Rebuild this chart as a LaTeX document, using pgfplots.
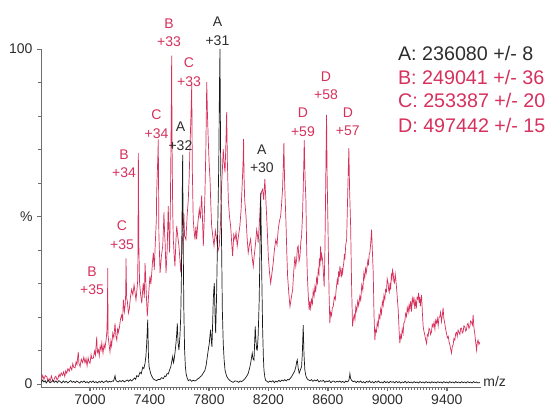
\documentclass[border=0pt]{standalone}
\usepackage{pgfplots}
\pgfplotsset{compat=1.18}
\usepackage{fontspec}
\setmainfont{Liberation Sans}
\definecolor{spred}{RGB}{214,48,92}
\definecolor{spblack}{RGB}{25,25,25}
\definecolor{axgray}{RGB}{110,110,110}
\definecolor{txgray}{RGB}{45,45,45}

\begin{document}
\begin{tikzpicture}
\begin{axis}[
    scale only axis,
    width=440pt, height=338.35pt,
    xmin=6670, xmax=9630,
    ymin=-1, ymax=100,
    axis lines=left,
    axis line style={-, draw=axgray, line width=0.7pt},
    xtick={7000,7400,7800,8200,8600,9000,9400},
    minor x tick num=19,
    ytick={0,50,100},
    yticklabels={0,\%,100},
    minor ytick={10,20,30,40,60,70,80,90},
    tick align=outside,
    major tick length=4pt, minor tick length=2.5pt,
    tick style={draw=axgray, line width=0.5pt},
    major x tick style={line width=1.4pt, draw=axgray},
    /pgf/number format/assume math mode=true,
    /pgf/number format/set thousands separator={},
    ticklabel style={font=\fontsize{14}{14}\selectfont, text=txgray},
    yticklabel style={xshift=-1pt},
    clip=false,
]
% sample spectrum (pink)
\addplot[spred, line width=0.7pt] coordinates {
(6672,1.2) (6682,2.6) (6690,1.4) (6699,2.5) (6709,2.2) (6717,0.8) (6725,1.6) (6732,0.9)
(6740,2.4) (6747,1.3) (6753,0.7) (6762,1.9) (6770,2.3) (6778,1.2) (6785,1.8) (6792,2.9)
(6798,2.2) (6806,3.3) (6815,2.6) (6822,3.6) (6830,2.2) (6836,3.9) (6843,3.2) (6851,4.6)
(6860,3.8) (6868,5.2) (6877,4.2) (6884,6.1) (6890,5.0) (6899,4.8) (6906,6.6) (6912,5.8)
(6918,8.4) (6921,9.6) (6925,6.2) (6933,5.2) (6941,7.4) (6950,6.4) (6958,8.0) (6966,6.3)
(6973,7.6) (6980,5.4) (6987,7.8) (6993,6.6) (7000,6.2) (7007,8.8) (7012,7.6) (7022,7.7)
(7030,9.8) (7036,8.6) (7041,11.6) (7045,14.1) (7049,9.4) (7056,10.2) (7062,8.4) (7068,11.3)
(7074,10.1) (7079,12.2) (7087,9.2) (7094,11.8) (7100,10.6) (7108,13.2) (7113,15.6) (7117,22)
(7119,34.6) (7121,14.5) (7127,12.1) (7134,9.6) (7140,12.8) (7145,11.4) (7153,15.2) (7160,13.8)
(7168,18.1) (7174,14.2) (7180,13.1) (7186,16.8) (7190,15.4) (7197,16.7) (7205,19.4) (7213,20.6)
(7219,18.8) (7224,25.2) (7231,21.6) (7236,23.4) (7240,27) (7242,37.5) (7246,25.8) (7251,24.6)
(7258,21.2) (7264,22.3) (7272,26.1) (7280,28.2) (7288,26.6) (7296,29.6) (7303,27.2) (7309,25.1)
(7316,28.4) (7321,31.2) (7323,48) (7325,69) (7328,42) (7333,30.4) (7340,26.8) (7348,24.1)
(7353,27.5) (7358,30.2) (7365,25.7) (7370,36.1) (7374,31.8) (7378,27.3) (7385,20.2) (7390,23.6)
(7395,27.4) (7403,32.2) (7409,29.8) (7415,33.1) (7420,36.4) (7426,39.2) (7432,34.1) (7440,43.2)
(7446,49) (7448,57) (7456,68) (7459,73) (7463,45) (7471,33.2) (7480,38.1) (7489,41.3)
(7494,46.8) (7497,51.2) (7502,44.6) (7505,42.2) (7511,33.1) (7519,40.4) (7526,53.1) (7530,46.2)
(7535,39.3) (7540,52) (7543,65.1) (7547,84) (7549,98) (7552,70) (7556,52) (7560,43.2)
(7566,38.4) (7571,35.1) (7577,42) (7583,47.2) (7590,44.1) (7598,41.2) (7604,37.5) (7610,33.3)
(7618,40.2) (7627,47.1) (7631,51) (7636,44.2) (7645,43.1) (7653,50.2) (7661,55.1) (7667,62)
(7672,70.2) (7680,82) (7684,89.5) (7688,64) (7694,49.2) (7700,45.6) (7706,43.1) (7712,47)
(7717,43.2) (7726,48.4) (7735,52.2) (7742,49.4) (7751,56.3) (7756,50) (7762,41.2) (7768,49)
(7773,57.1) (7779,70) (7785,90.1) (7790,80) (7795,73.2) (7801,66) (7807,61.2) (7812,54)
(7818,47.1) (7826,44) (7834,41.2) (7843,45.8) (7852,43.1) (7860,39.6) (7869,41.2) (7878,48.1)
(7885,59.2) (7891,64.8) (7896,70.1) (7902,66) (7908,63.2) (7914,72) (7919,81.2) (7924,66)
(7930,55.2) (7938,50) (7946,47.1) (7953,42) (7959,38.2) (7967,44.6) (7975,43.1) (7982,45.2)
(7990,41.2) (7999,44.4) (8008,47.2) (8016,52) (8024,60.1) (8030,67) (8033,73.2) (8036,62)
(8040,55.2) (8049,50.1) (8056,44) (8064,39.2) (8072,41.5) (8080,43.2) (8089,38.4) (8098,35.1)
(8104,38.2) (8109,40.1) (8115,42.8) (8121,46.1) (8126,44.6) (8131,42.2) (8140,49) (8148,56.1)
(8154,57.4) (8161,58.1) (8168,55) (8176,61.2) (8182,55.6) (8188,50.1) (8194,44) (8199,38.2)
(8207,33.4) (8215,30.1) (8224,33.2) (8232,36.1) (8241,40.4) (8250,43.1) (8258,41.5) (8266,46.2)
(8274,48.6) (8282,50.1) (8288,53.4) (8295,58.2) (8300,65) (8304,72) (8309,60) (8318,48.1)
(8324,38.6) (8329,32.2) (8337,27.1) (8345,23.1) (8354,25.8) (8363,28.2) (8370,33.4) (8378,38.1)
(8384,35.2) (8390,37.3) (8395,40.6) (8400,41.2) (8406,36.7) (8412,38.1) (8418,42.4) (8423,44.2)
(8429,50) (8434,58.1) (8438,66) (8441,72.8) (8446,62) (8452,55.1) (8457,41) (8461,33.2)
(8468,26.4) (8474,22.1) (8479,24.8) (8484,22.6) (8490,25.2) (8496,24.0) (8501,27.8) (8507,26.2)
(8513,29.1) (8518,27.4) (8524,31.6) (8530,30.2) (8535,34.2) (8540,33.0) (8543,37.5) (8547,35.2)
(8551,41.1) (8555,36.8) (8558,38.6) (8564,37.2) (8570,33) (8575,29.1) (8580,40) (8585,58.2)
(8589,74) (8591,80.3) (8595,62) (8602,43.1) (8608,27) (8613,18.2) (8618,21.4) (8624,20.4)
(8630,22.8) (8636,23.1) (8643,26.0) (8650,25.2) (8656,28.4) (8663,31.1) (8668,29.6) (8672,33.6)
(8677,32.0) (8681,35.2) (8686,33.4) (8690,31.8) (8695,34.6) (8699,33.1) (8703,35.0) (8707,36.2)
(8711,38.8) (8714,37.1) (8720,41.4) (8726,43.2) (8734,58) (8741,70.4) (8746,58) (8753,47.1)
(8760,28) (8766,17.2) (8771,19.4) (8777,20.6) (8782,19.2) (8788,23.1) (8794,21.8) (8801,24.8)
(8807,23.4) (8815,26.2) (8821,25.0) (8828,29.6) (8835,28.0) (8842,33.1) (8848,31.6) (8853,34.4)
(8858,33.2) (8864,35.2) (8869,36.8) (8873,35.4) (8878,38.8) (8882,39.1) (8888,42) (8894,46.1)
(8899,40) (8905,33.2) (8910,21) (8916,13.1) (8921,16.2) (8927,15.6) (8932,18.4) (8938,17.2)
(8944,20.6) (8950,19.6) (8955,22.4) (8961,21.1) (8966,24.6) (8972,23.4) (8977,26.4) (8983,25.2)
(8988,28.2) (8994,27.6) (8999,31.4) (9005,30.1) (9009,28.0) (9013,27.4) (9018,30.2) (9022,28.2)
(9027,32.4) (9031,31.4) (9035,34.0) (9039,33.1) (9044,30.6) (9048,30.2) (9053,32.8) (9057,31.3)
(9062,28.6) (9065,27) (9069,24.4) (9073,22.2) (9079,16) (9084,12.2) (9090,14.6) (9095,13.8)
(9100,16.4) (9106,15.1) (9111,18.2) (9117,18.6) (9123,21.0) (9129,20.2) (9134,22.8) (9140,21.4)
(9146,23.6) (9151,22.1) (9157,24.8) (9163,21.6) (9168,25.6) (9174,24.2) (9179,26.0) (9185,22.4)
(9190,24.6) (9196,23.1) (9200,25.8) (9205,25.4) (9210,27.2) (9214,24.2) (9218,26.0) (9222,23.2)
(9226,25.0) (9230,26.6) (9236,21) (9241,17.2) (9246,15.8) (9252,14.6) (9258,13.2) (9264,12.1)
(9269,14.8) (9275,14.4) (9280,16.6) (9286,16.2) (9291,14.8) (9297,15.6) (9302,17.8) (9308,17.1)
(9314,18.4) (9320,16.4) (9325,19.0) (9331,18.2) (9336,19.6) (9342,17.4) (9347,19.8) (9353,20.1)
(9358,21.4) (9364,18.6) (9369,20.2) (9375,22.7) (9380,19.6) (9386,18.2) (9392,16.4) (9398,15.1)
(9404,13.8) (9410,14.2) (9415,12.6) (9421,11.6) (9426,10.4) (9432,9.2) (9437,11.2) (9443,11.8)
(9448,13.6) (9454,13.1) (9460,15.2) (9465,15.4) (9470,14.2) (9476,16.1) (9482,15.4) (9488,14.8)
(9493,16.6) (9499,16.7) (9504,15.2) (9510,15.6) (9515,17.4) (9521,17.1) (9527,15.8) (9532,16.2)
(9538,17.8) (9543,18.1) (9549,16.6) (9555,17.2) (9560,18.8) (9566,18.5) (9572,17.6) (9577,20.6)
(9582,17) (9588,15.1) (9594,12.6) (9600,10.1) (9605,12.4) (9610,13.1) (9616,11.8) (9622,12.5)
};
% reference spectrum (black)
\addplot[spblack, line width=0.7pt] coordinates {
(6672,0.5) (6681,1.2) (6690,0.6) (6698,1.0) (6705,0.3) (6713,0.8) (6720,1.1) (6730,0.4)
(6740,0.6) (6750,1.1) (6760,0.5) (6770,0.9) (6780,0.4) (6790,1.0) (6800,0.7) (6810,0.3)
(6820,0.9) (6830,0.5) (6840,0.8) (6850,0.3) (6860,0.7) (6870,1.0) (6880,0.5) (6890,0.8)
(6900,0.4) (6910,0.9) (6920,0.6) (6930,0.3) (6940,0.8) (6950,0.5) (6960,0.9) (6970,0.4)
(6980,0.7) (6990,0.3) (7000,0.8) (7010,0.5) (7020,0.9) (7030,0.4) (7040,0.7) (7050,0.3)
(7060,0.8) (7070,0.5) (7080,0.9) (7090,0.4) (7100,0.7) (7110,1.0) (7120,0.5) (7130,0.8)
(7140,0.6) (7150,0.9) (7157,0.8) (7163,1.6) (7168,2.5) (7173,1.2) (7180,0.8) (7190,0.6)
(7200,1.0) (7210,0.7) (7220,1.1) (7230,0.6) (7240,0.9) (7250,1.2) (7260,0.8) (7270,1.3)
(7280,0.9) (7291,1.4) (7300,1.8) (7307,1.4) (7314,2.5) (7325,2.2) (7336,3.5) (7345,3.1)
(7354,5.0) (7362,4.6) (7370,6.2) (7376,8.4) (7381,12.1) (7388,19.2) (7393,8.2) (7397,5.2)
(7408,3.1) (7417,2.2) (7426,1.5) (7437,1.2) (7448,1.0) (7459,1.4) (7470,1.3) (7482,1.9)
(7493,1.6) (7502,2.4) (7510,2.2) (7518,3.1) (7526,3.0) (7535,4.2) (7543,5.1) (7550,6.8)
(7556,8.2) (7561,6.4) (7565,7.1) (7572,9.6) (7578,12.2) (7583,15) (7587,18.1) (7592,12.4)
(7598,10.1) (7605,14.6) (7610,20.2) (7614,30) (7618,46) (7623,68.4) (7627,40) (7631,22)
(7636,10.2) (7641,5.4) (7646,3.1) (7653,1.8) (7661,1.0) (7672,1.3) (7683,0.8) (7694,1.1)
(7706,0.9) (7717,1.2) (7726,1.6) (7735,1.8) (7743,2.2) (7751,2.5) (7762,3.3) (7773,4.1)
(7781,5.6) (7789,8.2) (7796,10.4) (7802,12.1) (7807,14.6) (7811,16.2) (7816,12.8) (7820,11.1)
(7825,18.6) (7829,25.2) (7833,28.4) (7836,30.1) (7841,20.4) (7845,15.2) (7851,26) (7856,39.2)
(7861,52) (7866,66) (7871,90) (7874,100) (7878,70) (7884,44.8) (7890,22) (7896,12.1)
(7902,7.2) (7908,4.1) (7919,2.3) (7930,1.5) (7942,1.0) (7953,0.7) (7963,0.5) (7975,0.9)
(7990,0.8) (8000,0.5) (8010,0.9) (8020,0.7) (8031,1.1) (8041,1.5) (8050,2.1) (8058,2.6)
(8064,3.2) (8072,4.5) (8080,6.1) (8086,7.8) (8091,9.2) (8097,7.4) (8103,7.1) (8107,12)
(8111,17.2) (8116,13) (8121,10.2) (8125,10.1) (8131,14.6) (8138,25.2) (8143,40) (8148,57.1)
(8152,44) (8156,30) (8161,16.2) (8166,8) (8170,4.1) (8176,2.0) (8181,1.1) (8190,0.8)
(8199,0.5) (8210,0.9) (8220,0.6) (8230,1.0) (8240,0.4) (8250,0.9) (8260,0.6) (8270,1.1)
(8280,0.7) (8290,1.2) (8300,0.9) (8310,1.3) (8320,0.9) (8330,1.4) (8338,1.2) (8345,1.6)
(8356,2.2) (8367,3.1) (8376,3.8) (8385,5.2) (8390,6.6) (8394,7.2) (8400,4.8) (8407,3.2)
(8414,4.1) (8423,5.2) (8428,9) (8434,17.6) (8439,9) (8445,4.2) (8452,2.4) (8461,1.5)
(8470,1.2) (8480,1.0) (8490,1.3) (8499,0.8) (8510,1.2) (8520,0.9) (8530,1.3) (8540,0.6)
(8550,1.0) (8560,0.8) (8570,1.1) (8580,0.5) (8590,0.9) (8600,0.7) (8610,1.0) (8620,0.4)
(8630,0.8) (8640,0.9) (8650,0.5) (8660,0.8) (8670,0.6) (8680,0.9) (8690,0.5) (8700,0.8)
(8710,0.4) (8720,0.9) (8730,0.6) (8740,1.0) (8745,2.0) (8748,3.1) (8752,1.8) (8759,1.1)
(8770,0.7) (8780,0.9) (8790,0.4) (8800,0.8) (8810,0.5) (8820,0.9) (8830,0.4) (8840,0.7)
(8850,0.3) (8860,0.8) (8870,0.5) (8880,0.9) (8890,0.4) (8900,0.7) (8910,0.3) (8920,0.8)
(8930,0.5) (8940,0.9) (8950,0.4) (8960,0.6) (8970,0.3) (8980,0.8) (8990,0.4) (9000,0.7)
(9010,0.3) (9020,0.8) (9030,0.5) (9040,0.7) (9050,0.3) (9060,0.8) (9070,0.4) (9080,0.7)
(9090,0.3) (9100,0.6) (9110,0.4) (9120,0.8) (9130,0.3) (9140,0.7) (9150,0.4) (9160,0.6)
(9170,0.3) (9180,0.7) (9190,0.4) (9200,0.6) (9210,0.3) (9220,0.7) (9230,0.4) (9240,0.6)
(9250,0.3) (9260,0.7) (9270,0.4) (9280,0.6) (9290,0.3) (9300,0.7) (9310,0.4) (9320,0.6)
(9330,0.3) (9340,0.7) (9350,0.4) (9360,0.6) (9370,0.3) (9380,0.7) (9390,0.4) (9400,0.6)
(9410,0.3) (9420,0.7) (9430,0.4) (9440,0.6) (9450,0.3) (9460,0.7) (9470,0.4) (9480,0.6)
(9490,0.3) (9500,0.7) (9510,0.4) (9520,0.6) (9530,0.3) (9540,0.7) (9550,0.4) (9560,0.6)
(9570,0.3) (9580,0.7) (9590,0.4) (9600,0.6) (9610,0.3) (9622,0.5)
};
% charge state labels
\begin{scope}[every node/.style={inner sep=0pt, align=center, font=\fontsize{14}{18.4}\selectfont}]
\node[text=spred]  at (axis cs:7531,104.9) {B\\+33};
\node[text=txgray] at (axis cs:7857,105.3) {A\\+31};
\node[text=spred]  at (axis cs:7666,93.1)  {C\\+33};
\node[text=spred]  at (axis cs:7447,77.5)  {C\\+34};
\node[text=txgray] at (axis cs:7608,73.9)  {A\\+32};
\node[text=spred]  at (axis cs:7229,65.7)  {B\\+34};
\node[text=txgray] at (axis cs:8156,67.3)  {A\\+30};
\node[text=spred]  at (axis cs:7215,44.4)  {C\\+35};
\node[text=spred]  at (axis cs:7013,30.9)  {B\\+35};
\node[text=spred]  at (axis cs:8587,89.0)  {D\\+58};
\node[text=spred]  at (axis cs:8432,78.1)  {D\\+59};
\node[text=spred]  at (axis cs:8734,78.2)  {D\\+57};
\end{scope}
% masses
\begin{scope}[every node/.style={inner sep=0pt, anchor=west, font=\fontsize{19.7}{19.7}\selectfont}]
\node[text=txgray] at (axis cs:9071,98.7) {A: 236080 +/- 8};
\node[text=spred]  at (axis cs:9071,91.6) {B: 249041 +/- 36};
\node[text=spred]  at (axis cs:9071,84.6) {C: 253387 +/- 20};
\node[text=spred]  at (axis cs:9071,77.3) {D: 497442 +/- 15};
\end{scope}
\node[inner sep=0pt, anchor=west, text=txgray, font=\fontsize{14}{14}\selectfont] at (axis cs:9645,0.6) {m/z};
\end{axis}
\pgfresetboundingbox
\useasboundingbox (-41pt,-18.65pt) rectangle (508pt,387.35pt);
\end{tikzpicture}
\end{document}
